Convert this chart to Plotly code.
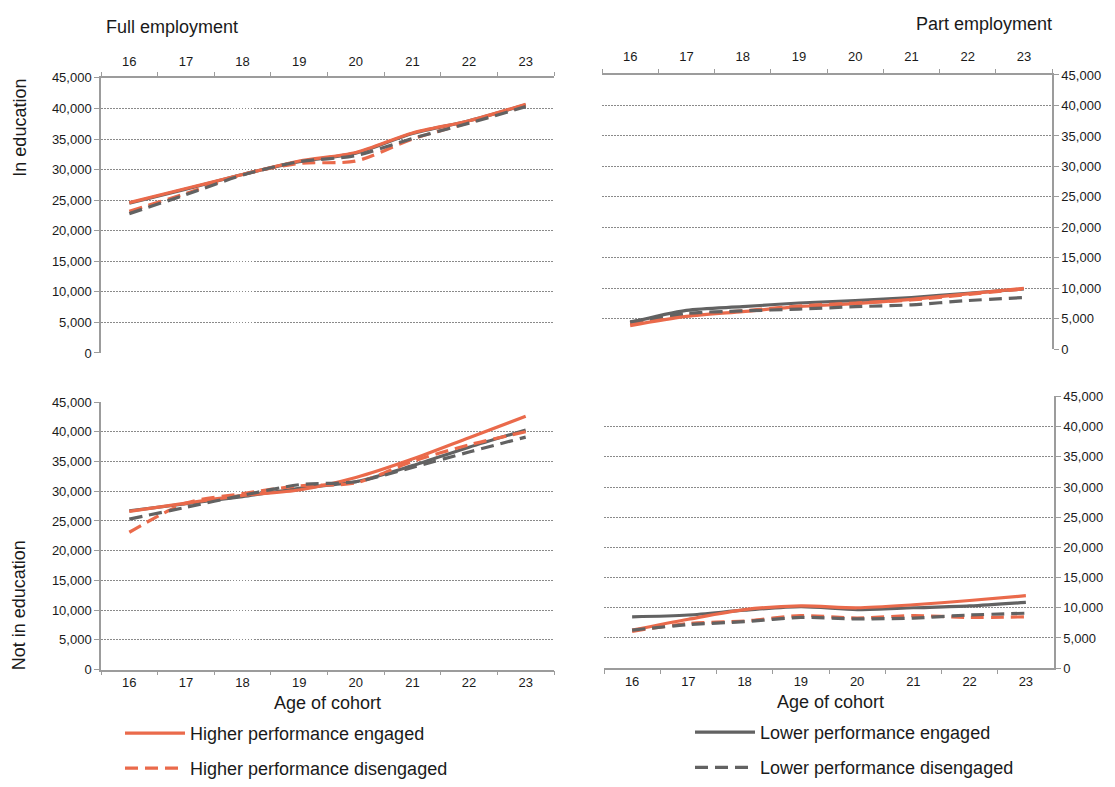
import plotly.graph_objects as go

W, H = 1115, 787

# ---------------- data ----------------
ages = ["16", "17", "18", "19", "20", "21", "22", "23"]

# Full employment, in education
fe_ie_hi_eng = [24600, 26900, 29200, 31400, 32800, 36000, 38000, 40700]
fe_ie_hi_dis = [23200, 26100, 29200, 31000, 31400, 35000, 37700, 40500]
fe_ie_lo_eng = [24500, 26800, 29200, 31300, 32700, 35900, 38000, 40600]
fe_ie_lo_dis = [22800, 25900, 29100, 31300, 32300, 35100, 37600, 40300]

# Part employment, in education
pe_ie_hi_eng = [3900, 5400, 6200, 7000, 7500, 8200, 9100, 10000]
pe_ie_hi_dis = [4300, 5600, 6300, 7100, 7600, 8100, 9000, 9900]
pe_ie_lo_eng = [4400, 6400, 7000, 7600, 8000, 8500, 9200, 9900]
pe_ie_lo_dis = [4500, 5900, 6300, 6600, 7000, 7300, 8000, 8500]

# Full employment, not in education
fe_ne_hi_eng = [26600, 28000, 29300, 30200, 32300, 35400, 39000, 42600]
fe_ne_hi_dis = [23100, 28000, 29600, 30900, 31400, 35000, 37800, 40000]
fe_ne_lo_eng = [26700, 27900, 29100, 30500, 31600, 34300, 37400, 40300]
fe_ne_lo_dis = [25300, 27300, 29300, 31100, 31600, 34000, 36600, 39100]

# Part employment, not in education
pe_ne_hi_eng = [6300, 8100, 9700, 10300, 10000, 10500, 11200, 12000]
pe_ne_hi_dis = [6100, 7400, 7800, 8700, 8300, 8700, 8400, 8500]
pe_ne_lo_eng = [8500, 8800, 9600, 10200, 9700, 10000, 10300, 10900]
pe_ne_lo_dis = [6300, 7200, 7700, 8400, 8150, 8300, 8800, 9100]

series_names = ["Higher performance engaged", "Higher performance disengaged",
                "Lower performance engaged", "Lower performance disengaged"]

# ---------------- styles ----------------
ORANGE = "#EA6A4B"
GREY = "#626262"
AXIS = "#9C9C9C"
GRID = "#8A8A8A"
TXT = "#1A1A1A"
FONT = "Liberation Sans, Arial, sans-serif"
DASH = "13px,7px"

styles = [
    dict(color=ORANGE, dash="solid"),
    dict(color=ORANGE, dash=DASH),
    dict(color=GREY, dash="solid"),
    dict(color=GREY, dash=DASH),
]
legend_ids = ["legend", "legend2", "legend3", "legend4"]

panels = [
    # axis ids, data, x side, y side, pixel box, x-label standoff
    ("x", "y", [fe_ie_hi_eng, fe_ie_hi_dis, fe_ie_lo_eng, fe_ie_lo_dis], "top", "left", (101, 554, 72.3, 352.7), 5),
    ("x2", "y2", [pe_ie_hi_eng, pe_ie_hi_dis, pe_ie_lo_eng, pe_ie_lo_dis], "top", "right", (602, 1052, 69.3, 349), 7),
    ("x3", "y3", [fe_ne_hi_eng, fe_ne_hi_dis, fe_ne_lo_eng, fe_ne_lo_dis], "bottom", "left", (101, 554, 402.7, 675.5), 0),
    ("x4", "y4", [pe_ne_hi_eng, pe_ne_hi_dis, pe_ne_lo_eng, pe_ne_lo_dis], "bottom", "right", (604, 1054, 397, 674), 0),
]

draw_order = [2, 0, 1, 3]

fig = go.Figure()
layout = {}

for pi, (xa, ya, data, xside, yside, box, standoff) in enumerate(panels):
    for si in draw_order:
        st = styles[si]
        fig.add_trace(go.Scatter(
            x=ages, y=data[si], mode="lines",
            line=dict(color=st["color"], width=3.2, dash=st["dash"], shape="spline", smoothing=0.8),
            name=series_names[si],
            xaxis=xa, yaxis=ya,
            showlegend=(pi == 0),
            legend=legend_ids[si],
            hoverinfo="skip",
        ))
    x0, x1, yt, yb = box
    xkey = "xaxis" if xa == "x" else "xaxis" + xa[1:]
    ykey = "yaxis" if ya == "y" else "yaxis" + ya[1:]
    layout[xkey] = dict(
        domain=[x0 / W, x1 / W], anchor=ya, side=xside, type="category",
        categoryorder="array", categoryarray=ages,
        range=[-0.5, 7.5], tickson="boundaries",
        showline=True, linecolor=AXIS, linewidth=1.5,
        ticks="outside", ticklen=4, tickcolor=AXIS, tickwidth=1.2,
        ticklabelstandoff=standoff,
        showgrid=False, zeroline=False,
        tickfont=dict(family=FONT, size=13, color=TXT),
        fixedrange=True,
    )
    layout[ykey] = dict(
        domain=[1 - yb / H, 1 - yt / H], anchor=xa, side=yside,
        range=[0, 45000], dtick=5000, tick0=0, tickformat=",",
        showline=True, linecolor=AXIS, linewidth=1.5,
        ticks="outside", ticklen=5, tickcolor=AXIS, tickwidth=1.2,
        showgrid=True, gridcolor=GRID, gridwidth=1, griddash="1.5px,1.5px",
        zeroline=False,
        tickfont=dict(family=FONT, size=13, color=TXT),
        fixedrange=True,
    )

leg_pos = [(120, 740.5), (120, 776.5), (690, 739.5), (690, 775.5)]
for lid, (lx, ly) in zip(legend_ids, leg_pos):
    layout[lid] = dict(
        x=lx / W, y=1 - ly / H, xanchor="left", yanchor="middle",
        orientation="v", itemwidth=60, bgcolor="rgba(0,0,0,0)",
        font=dict(family=FONT, size=18, color=TXT),
        itemclick=False, itemdoubleclick=False,
    )

annotations = [
    dict(text="Full employment", x=104 / W, y=1 - 20 / H, xanchor="left", yanchor="middle",
         font=dict(size=18)),
    dict(text="Part employment", x=1054 / W, y=1 - 17 / H, xanchor="right", yanchor="middle",
         font=dict(size=18)),
    dict(text="In education", x=20 / W, y=1 - 123 / H, xanchor="center", yanchor="middle",
         textangle=-90, font=dict(size=18)),
    dict(text="Not in education", x=19 / W, y=1 - 610 / H, xanchor="center", yanchor="middle",
         textangle=-90, font=dict(size=18)),
    dict(text="Age of cohort", x=327 / W, y=1 - 710 / H, xanchor="center", yanchor="middle",
         font=dict(size=18)),
    dict(text="Age of cohort", x=830 / W, y=1 - 709 / H, xanchor="center", yanchor="middle",
         font=dict(size=18)),
]
for a in annotations:
    a.update(xref="paper", yref="paper", showarrow=False)
    a["font"].update(family=FONT, color=TXT)

fig.update_layout(
    width=W, height=H,
    margin=dict(l=0, r=0, t=0, b=0),
    paper_bgcolor="white", plot_bgcolor="white",
    font=dict(family=FONT, color=TXT),
    annotations=annotations,
    hovermode=False,
    **layout,
)

fig.write_html(
    "out.html",
    config={"displayModeBar": False},
    post_script="document.body.style.margin='0';document.body.style.overflow='hidden';",
)
